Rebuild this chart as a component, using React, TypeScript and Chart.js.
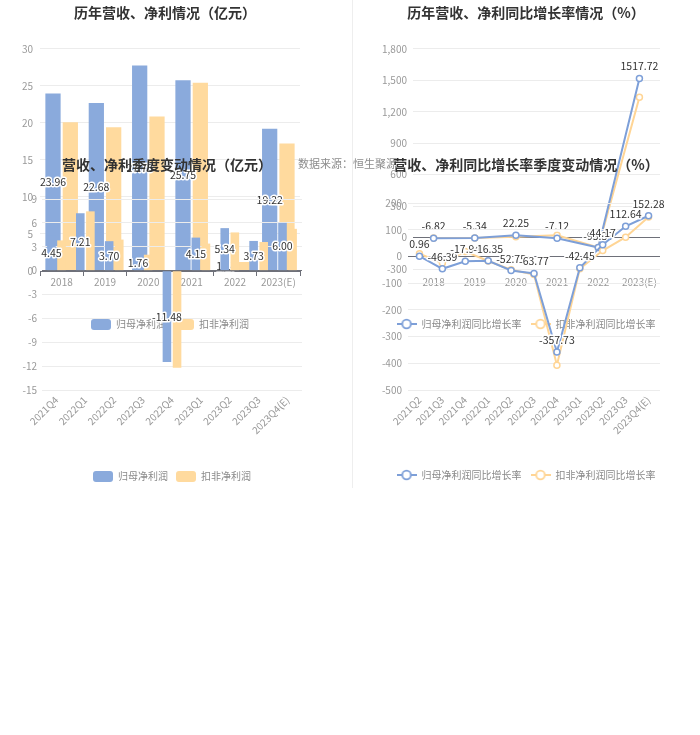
import React, { useEffect, useRef } from 'react';
import { Chart, registerables } from 'chart.js';

Chart.register(...registerables);

// ---------- data ----------
const years = ['2018', '2019', '2020', '2021', '2022', '2023(E)'];
const annualNetProfit = [23.96, 22.68, 27.73, 25.75, 1.19, 19.22];
const annualDeductedProfit = [20.1, 19.4, 20.85, 25.4, 1.2, 17.2];

const barQuarters = ['2021Q4', '2022Q1', '2022Q2', '2022Q3', '2022Q4', '2023Q1', '2023Q2', '2023Q3', '2023Q4(E)'];
const quarterNetProfit = [4.45, 7.21, 3.7, 1.76, -11.48, 4.15, 5.34, 3.73, 6.0];
const quarterDeductedProfit = [3.8, 7.45, 3.9, 2.0, -12.2, 3.4, 4.8, 3.6, 5.25];

const annualNetGrowth = [-6.82, -5.34, 22.25, -7.12, -95.39, 1517.72];
const annualDeductedGrowth = [-4.1, -3.5, 7.6, 21.8, -95.3, 1339];

const lineQuarters = ['2021Q2', '2021Q3', '2021Q4', '2022Q1', '2022Q2', '2022Q3', '2022Q4', '2023Q1', '2023Q2', '2023Q3', '2023Q4(E)'];
const quarterNetGrowth = [0.96, -46.39, -17.94, -16.35, -52.75, -63.77, -357.73, -42.45, 44.17, 112.64, 152.28];
const quarterDeductedGrowth = [10, -25, 18, -17, -50, -68, -407, -46, 22, 72, 148];

const seriesNames = ['归母净利润', '扣非净利润'];
const growthNames = ['归母净利润同比增长率', '扣非净利润同比增长率'];

// ---------- styles ----------
const FONT = "'Noto Sans CJK SC', 'Noto Sans', sans-serif";
const BLUE = '#8AAADC';
const ORANGE = '#FFDA9E';
const BLUE_LINE = '#7D9FD8';
const ORANGE_LINE = '#FFD595';
const GRID = '#ececec';
const AXIS = '#6e7079';
const LABEL = '#999999';
const LEGEND_TEXT = '#8a8a8a';

Chart.defaults.font.family = FONT;

const zeroGrid = (c: any) => (c.tick && c.tick.value === 0 ? AXIS : GRID);

const valueLabels = (kind: 'bar' | 'line') => ({
  id: 'valueLabels',
  afterDatasetsDraw(chart: any) {
    const ctx = chart.ctx;
    const meta = chart.getDatasetMeta(0);
    const data = chart.data.datasets[0].data as number[];
    ctx.save();
    ctx.font = `10.5px ${FONT}`;
    ctx.textAlign = 'center';
    ctx.textBaseline = 'middle';
    ctx.lineJoin = 'round';
    meta.data.forEach((el: any, i: number) => {
      const txt = Number(data[i]).toFixed(2);
      const x = el.x;
      const y = kind === 'bar' ? (el.y + el.base) / 2 : el.y - 12;
      ctx.strokeStyle = '#ffffff';
      ctx.lineWidth = 3;
      ctx.strokeText(txt, x, y);
      ctx.fillStyle = '#333333';
      ctx.fillText(txt, x, y);
    });
    ctx.restore();
  },
});

function lineIcon(color: string) {
  const c = document.createElement('canvas');
  c.width = 20;
  c.height = 12;
  const g = c.getContext('2d')!;
  g.strokeStyle = color;
  g.lineWidth = 2;
  g.beginPath();
  g.moveTo(0, 6);
  g.lineTo(20, 6);
  g.stroke();
  g.beginPath();
  g.arc(10, 6, 4.3, 0, Math.PI * 2);
  g.fillStyle = '#ffffff';
  g.fill();
  g.lineWidth = 1.8;
  g.stroke();
  return c;
}

function titleOpts(text: string, top: number, bottom: number) {
  return {
    display: true,
    text,
    color: '#333333',
    font: { size: 14, weight: 'bold' as const, family: FONT },
    padding: { top, bottom },
  };
}

function padAxis(w: number) {
  return {
    type: 'linear' as const,
    axis: 'y' as const,
    position: 'right' as const,
    display: true,
    ticks: { display: false },
    grid: { display: false, drawTicks: false },
    border: { display: false },
    afterFit: (s: any) => {
      s.width = w;
    },
  };
}

function barLegend() {
  return {
    position: 'bottom' as const,
    fullSize: false,
    labels: {
      color: LEGEND_TEXT,
      font: { size: 10, family: FONT },
      boxWidth: 20,
      boxHeight: 11,
      padding: 8,
      useBorderRadius: true,
      borderRadius: 3,
    },
  };
}

function lineLegend() {
  const icons = [lineIcon(BLUE_LINE), lineIcon(ORANGE_LINE)];
  return {
    position: 'bottom' as const,
    fullSize: true,
    labels: {
      color: LEGEND_TEXT,
      font: { size: 10, family: FONT },
      usePointStyle: true,
      pointStyleWidth: 20,
      padding: 9,
      generateLabels: (chart: any) =>
        (Chart.defaults.plugins.legend.labels.generateLabels as any)(chart).map((it: any, i: number) => ({
          ...it,
          pointStyle: icons[i],
        })),
    },
  };
}

function annualBarConfig(): any {
  return {
    type: 'bar',
    data: {
      labels: years,
      datasets: [
        { label: seriesNames[0], data: annualNetProfit, backgroundColor: BLUE, categoryPercentage: 0.8, barPercentage: 0.88 },
        { label: seriesNames[1], data: annualDeductedProfit, backgroundColor: ORANGE, categoryPercentage: 0.8, barPercentage: 0.88 },
      ],
    },
    options: {
      responsive: false,
      animation: false,
      layout: { padding: 0, autoPadding: false },
      plugins: {
        title: titleOpts('历年营收、净利情况（亿元）', 4, 28),
        legend: barLegend(),
        tooltip: { enabled: false },
      },
      scales: {
        x: {
          offset: true,
          grid: { offset: true, drawOnChartArea: false, drawTicks: true, tickLength: 5, color: AXIS },
          border: { display: true, color: AXIS },
          ticks: { color: LABEL, font: { size: 10 }, padding: 0, maxRotation: 0, autoSkip: false },
          afterFit: (s: any) => {
            s.height = 40;
          },
        },
        y: {
          min: 0,
          max: 30,
          ticks: { stepSize: 5, color: LABEL, font: { size: 10 }, padding: 7 },
          grid: { color: zeroGrid, drawTicks: false },
          border: { display: false },
          afterFit: (s: any) => {
            s.width = 40;
          },
        },
        pad: padAxis(30),
      },
    },
    plugins: [valueLabels('bar')],
  };
}

function quarterBarConfig(): any {
  return {
    type: 'bar',
    data: {
      labels: barQuarters,
      datasets: [
        { label: seriesNames[0], data: quarterNetProfit, backgroundColor: BLUE, categoryPercentage: 0.7, barPercentage: 0.85 },
        { label: seriesNames[1], data: quarterDeductedProfit, backgroundColor: ORANGE, categoryPercentage: 0.7, barPercentage: 0.85 },
      ],
    },
    options: {
      responsive: false,
      animation: false,
      layout: { padding: 0, autoPadding: false },
      plugins: {
        title: titleOpts('营收、净利季度变动情况（亿元）', 6, 26.2),
        legend: barLegend(),
        tooltip: { enabled: false },
      },
      scales: {
        x: {
          offset: true,
          grid: { display: false, drawTicks: false },
          border: { display: false },
          ticks: { color: LABEL, font: { size: 10 }, padding: 4, minRotation: 45, maxRotation: 45, autoSkip: false },
          afterFit: (s: any) => {
            s.height = 73;
          },
        },
        y: {
          min: -15,
          max: 9,
          ticks: { stepSize: 3, color: LABEL, font: { size: 10 }, padding: 5 },
          grid: { color: zeroGrid, drawTicks: false },
          border: { display: false },
          afterFit: (s: any) => {
            s.width = 42;
          },
        },
        pad: padAxis(32),
      },
    },
    plugins: [valueLabels('bar')],
  };
}

function lineDataset(label: string, data: number[], color: string) {
  return {
    label,
    data,
    borderColor: color,
    backgroundColor: '#ffffff',
    pointBackgroundColor: '#ffffff',
    pointBorderColor: color,
    pointRadius: 3,
    pointBorderWidth: 1.5,
    borderWidth: 2,
    tension: 0,
  };
}

function annualLineConfig(): any {
  return {
    type: 'line',
    data: {
      labels: years,
      datasets: [
        lineDataset(growthNames[0], annualNetGrowth, BLUE_LINE),
        lineDataset(growthNames[1], annualDeductedGrowth, ORANGE_LINE),
      ],
    },
    options: {
      responsive: false,
      animation: false,
      layout: { padding: 0, autoPadding: false },
      plugins: {
        title: titleOpts('历年营收、净利同比增长率情况（%）', 4, 28),
        legend: lineLegend(),
        tooltip: { enabled: false },
      },
      scales: {
        x: {
          offset: true,
          grid: { display: false, drawTicks: false },
          border: { display: false },
          ticks: { color: LABEL, font: { size: 10 }, padding: 7, maxRotation: 0, autoSkip: false },
          afterFit: (s: any) => {
            s.height = 41;
          },
        },
        y: {
          min: -300,
          max: 1800,
          ticks: {
            stepSize: 300,
            color: LABEL,
            font: { size: 10 },
            padding: 6,
            callback: (v: any) => Number(v).toLocaleString('en-US'),
          },
          grid: { color: zeroGrid, drawTicks: false },
          border: { display: false },
          afterFit: (s: any) => {
            s.width = 61;
          },
        },
        pad: padAxis(40),
      },
    },
    plugins: [valueLabels('line')],
  };
}

function quarterLineConfig(): any {
  return {
    type: 'line',
    data: {
      labels: lineQuarters,
      datasets: [
        lineDataset(growthNames[0], quarterNetGrowth, BLUE_LINE),
        lineDataset(growthNames[1], quarterDeductedGrowth, ORANGE_LINE),
      ],
    },
    options: {
      responsive: false,
      animation: false,
      layout: { padding: 0, autoPadding: false },
      plugins: {
        title: titleOpts('营收、净利同比增长率季度变动情况（%）', 6, 30.2),
        legend: lineLegend(),
        tooltip: { enabled: false },
      },
      scales: {
        x: {
          offset: true,
          grid: { display: false, drawTicks: false },
          border: { display: false },
          ticks: { color: LABEL, font: { size: 10 }, padding: 4, minRotation: 45, maxRotation: 45, autoSkip: false },
          afterFit: (s: any) => {
            s.height = 71;
          },
        },
        y: {
          min: -500,
          max: 200,
          ticks: { stepSize: 100, color: LABEL, font: { size: 10 }, padding: 6 },
          grid: { color: zeroGrid, drawTicks: false },
          border: { display: false },
          afterFit: (s: any) => {
            s.width = 56;
          },
        },
        pad: padAxis(40),
      },
    },
    plugins: [valueLabels('line')],
  };
}

function ChartCanvas(props: { left: number; top: number; width: number; height: number; make: () => any }) {
  const ref = useRef<HTMLCanvasElement>(null);
  useEffect(() => {
    const chart = new Chart(ref.current as HTMLCanvasElement, props.make());
    return () => chart.destroy();
  }, []);
  return (
    <canvas
      ref={ref}
      width={props.width}
      height={props.height}
      style={{ position: 'absolute', left: props.left, top: props.top, width: props.width, height: props.height }}
    />
  );
}

export default function App() {
  return (
    <div style={{ position: 'absolute', left: 0, top: 0, width: 700, height: 735, background: '#ffffff', overflow: 'hidden' }}>
      <div style={{ position: 'absolute', left: 352, top: 0, width: 1, height: 488, background: '#eeeeee' }} />
      <ChartCanvas left={0} top={0} width={330} height={340} make={annualBarConfig} />
      <ChartCanvas left={352} top={0} width={348} height={339} make={annualLineConfig} />
      <div
        style={{
          position: 'absolute',
          left: 298,
          top: 156,
          fontFamily: FONT,
          fontSize: 11,
          lineHeight: '14px',
          color: '#8c8c8c',
          whiteSpace: 'nowrap',
        }}
      >
        数据来源：恒生聚源
      </div>
      <ChartCanvas left={0} top={150} width={334} height={342} make={quarterBarConfig} />
      <ChartCanvas left={352} top={150} width={348} height={340} make={quarterLineConfig} />
    </div>
  );
}
